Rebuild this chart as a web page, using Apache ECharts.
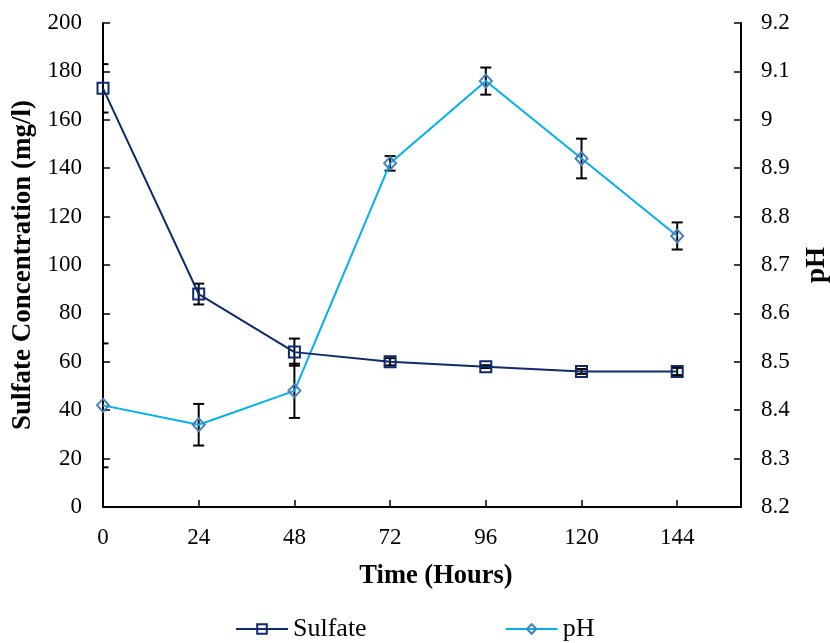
<!DOCTYPE html>
<html>
<head>
<meta charset="utf-8">
<script src="https://cdn.jsdelivr.net/npm/echarts@6/dist/echarts.min.js"></script>
<style>
  html, body { margin: 0; padding: 0; background: #ffffff; }
  #chart { width: 830px; height: 643px; }
</style>
</head>
<body>
<div id="chart"></div>
<script>
// Sampling times (hours)
const hours = [0, 24, 48, 72, 96, 120, 144];
const xTickValues = [0, 24, 48, 72, 96, 120, 144];

// Sulfate concentration (mg/l) and its standard deviation
const sulfate = [173, 88, 64, 60, 58, 56, 56];
const sulfateErr = [10, 4.3, 5.6, 1.5, 0.6, 1, 1.5];

// pH and its standard deviation
const ph = [8.41, 8.37, 8.44, 8.91, 9.08, 8.92, 8.76];
const phErr = [0.128, 0.043, 0.056, 0.015, 0.028, 0.041, 0.028];

const FONT = '"Liberation Serif", "Times New Roman", serif';
const NAVY = '#0e2a6e';
const SKY = '#00b0f0';
const DIAMOND = '#4a7fc1';

const pairs = (xs, ys) => xs.map((x, i) => [x, ys[i]]);
const triples = (xs, ys, es) => xs.map((x, i) => [x, ys[i], es[i]]);

// Vertical error bar with flat caps
function errorBar(params, api) {
  const x = api.value(0), y = api.value(1), e = api.value(2);
  const hi = api.coord([x, y + e]);
  const lo = api.coord([x, y - e]);
  const half = 5.5;
  const style = { stroke: '#000000', lineWidth: 2, fill: null };
  return {
    type: 'group',
    children: [
      { type: 'line', shape: { x1: hi[0], y1: hi[1], x2: lo[0], y2: lo[1] }, style },
      { type: 'line', shape: { x1: hi[0] - half, y1: hi[1], x2: hi[0] + half, y2: hi[1] }, style },
      { type: 'line', shape: { x1: lo[0] - half, y1: lo[1], x2: lo[0] + half, y2: lo[1] }, style }
    ]
  };
}

const chart = echarts.init(document.getElementById('chart'), null, { renderer: 'canvas' });

const axisLine = { show: true, lineStyle: { color: '#000000', width: 2 } };
const axisTick = { show: true, inside: true, length: 7, lineStyle: { color: '#000000', width: 1.5 } };

chart.setOption({
  animation: false,
  backgroundColor: '#ffffff',
  grid: { left: 103, right: 89, top: 23, bottom: 136, containLabel: false, outerBoundsMode: 'none' },
  legend: {
    left: 235,
    top: 616,
    padding: 0,
    itemWidth: 52,
    itemHeight: 12,
    itemGap: 138,
    textStyle: { fontFamily: FONT, fontSize: 26, color: '#000000', padding: [0, 0, 0, 0] },
    data: ['Sulfate', 'pH']
  },
  xAxis: {
    type: 'value',
    min: 0,
    max: 160,
    interval: 24,
    name: 'Time (Hours)',
    nameLocation: 'middle',
    nameGap: 56,
    nameTextStyle: { fontFamily: FONT, fontSize: 26.5, fontWeight: 'bold', color: '#000000', padding: [0, 0, 0, 28] },
    axisLine,
    axisTick: Object.assign({ customValues: xTickValues }, axisTick),
    axisLabel: { customValues: xTickValues, fontFamily: FONT, fontSize: 23, color: '#000000', margin: 19 },
    splitLine: { show: false }
  },
  yAxis: [
    {
      type: 'value',
      min: 0,
      max: 200,
      interval: 20,
      position: 'left',
      name: 'Sulfate Concentration (mg/l)',
      nameLocation: 'middle',
      nameRotate: 90,
      nameGap: 66,
      nameTextStyle: { fontFamily: FONT, fontSize: 27, fontWeight: 'bold', color: '#000000' },
      axisLine,
      axisTick,
      axisLabel: { fontFamily: FONT, fontSize: 23, color: '#000000', margin: 21 },
      splitLine: { show: false }
    },
    {
      type: 'value',
      min: 8.2,
      max: 9.2,
      interval: 0.1,
      position: 'right',
      name: 'pH',
      nameLocation: 'middle',
      nameRotate: 90,
      nameGap: 63,
      nameTextStyle: { fontFamily: FONT, fontSize: 27, fontWeight: 'bold', color: '#000000' },
      axisLine,
      axisTick,
      axisLabel: {
        fontFamily: FONT, fontSize: 23, color: '#000000', margin: 20,
        formatter: v => String(Number(v.toFixed(1)))
      },
      splitLine: { show: false }
    }
  ],
  series: [
    {
      name: 'Sulfate error',
      type: 'custom',
      yAxisIndex: 0,
      clip: true,
      z: 1,
      renderItem: errorBar,
      data: triples(hours, sulfate, sulfateErr)
    },
    {
      name: 'pH error',
      type: 'custom',
      yAxisIndex: 1,
      clip: true,
      z: 1,
      renderItem: errorBar,
      data: triples(hours, ph, phErr)
    },
    {
      name: 'Sulfate',
      type: 'line',
      yAxisIndex: 0,
      z: 3,
      data: pairs(hours, sulfate),
      symbol: 'rect',
      symbolSize: 11,
      showAllSymbol: true,
      lineStyle: { color: NAVY, width: 2 },
      itemStyle: { color: 'rgba(255,255,255,0)', borderColor: NAVY, borderWidth: 2 }
    },
    {
      name: 'pH',
      type: 'line',
      yAxisIndex: 1,
      z: 2,
      data: pairs(hours, ph),
      symbol: 'diamond',
      symbolSize: [12, 13],
      showAllSymbol: true,
      lineStyle: { color: SKY, width: 2 },
      itemStyle: { color: 'rgba(255,255,255,0)', borderColor: DIAMOND, borderWidth: 2 }
    }
  ]
});
</script>
</body>
</html>
